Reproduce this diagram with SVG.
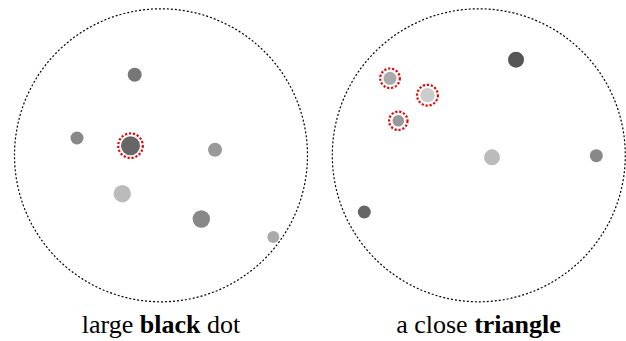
<svg xmlns="http://www.w3.org/2000/svg" width="626" height="341" viewBox="0 0 626 341">
<style>
.frame{fill:none;stroke:#000;stroke-width:1.2;stroke-dasharray:2 2}
.ring{fill:none;stroke:#e00;stroke-width:2.2;stroke-dasharray:2.2 1.8}
</style>
<rect width="626" height="341" fill="#fff"/>
<g id="panel-left">
<circle class="frame" cx="161" cy="155.3" r="146.5"/>
<circle cx="134.7" cy="74.7" r="7" fill="#777"/>
<circle cx="77" cy="138" r="6.5" fill="#888"/>
<circle cx="130.5" cy="145.7" r="9.5" fill="#666"/>
<circle class="ring" cx="130.5" cy="145.7" r="12.3"/>
<circle cx="215" cy="149.7" r="7" fill="#999"/>
<circle cx="122.3" cy="193.7" r="8.7" fill="#bbb"/>
<circle cx="201.3" cy="219" r="8.7" fill="#888"/>
<circle cx="273.3" cy="237" r="6" fill="#aaa"/>
<text font-family="Liberation Serif, Times New Roman, Tinos, DejaVu Serif, serif" font-size="26" text-anchor="middle" x="161" y="333">large <tspan font-weight="bold">black</tspan> dot</text>
</g>
<g id="panel-right">
<circle class="frame" cx="478.8" cy="155.3" r="146.5"/>
<circle cx="516" cy="59.7" r="8" fill="#555"/>
<circle cx="390" cy="78.3" r="6.5" fill="#aaa"/>
<circle class="ring" cx="390" cy="78.3" r="9.8"/>
<circle cx="427.5" cy="95.2" r="7.2" fill="#ccc"/>
<circle class="ring" cx="427.5" cy="95.2" r="10.4"/>
<circle cx="398.3" cy="120.8" r="5.8" fill="#999"/>
<circle class="ring" cx="398.3" cy="120.8" r="9.2"/>
<circle cx="492" cy="157.3" r="8" fill="#bbb"/>
<circle cx="596.3" cy="155.7" r="6.5" fill="#888"/>
<circle cx="364.3" cy="212" r="6.5" fill="#666"/>
<text font-family="Liberation Serif, Times New Roman, Tinos, DejaVu Serif, serif" font-size="26" text-anchor="middle" x="478.5" y="333">a close <tspan font-weight="bold">triangle</tspan></text>
</g>
</svg>
